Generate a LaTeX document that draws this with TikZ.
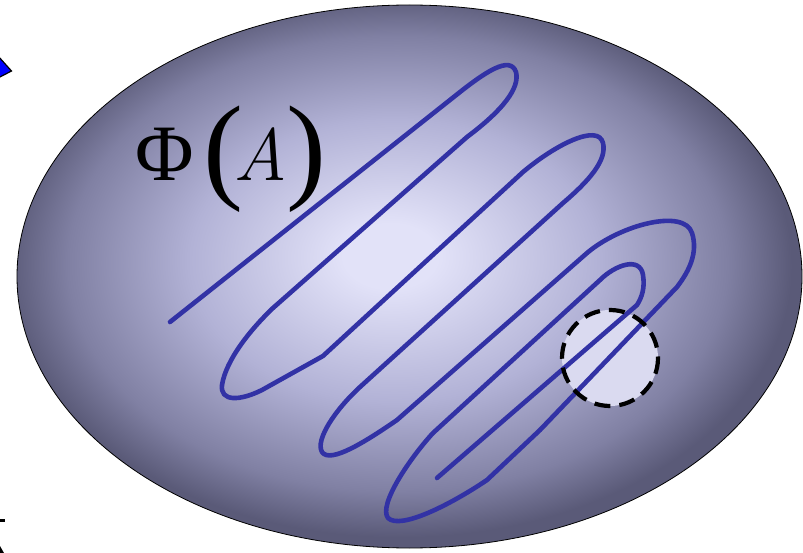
\documentclass[tikz,border=0pt]{standalone}
\usepackage{fontspec}
\setmainfont{Liberation Serif}
\usepackage{graphicx}
\definecolor{cin}{RGB}{226,226,248}
\definecolor{cmid}{RGB}{178,178,214}
\definecolor{cmidb}{RGB}{128,128,163}
\definecolor{cout}{RGB}{90,90,120}
\definecolor{curveblue}{RGB}{50,50,165}
\definecolor{spotfill}{RGB}{218,218,240}
\definecolor{tipblue}{RGB}{0,0,255}
\pgfdeclareradialshading{blobshade}{\pgfpoint{-1.3bp}{2bp}}{color(0bp)=(cin);color(3bp)=(cin);color(13bp)=(cmid);color(21bp)=(cmidb);color(25bp)=(cout);color(50bp)=(cout)}
\begin{document}
\begin{tikzpicture}[x=1pt,y=-1pt,
  blob/.style={shading=blobshade, draw=black, line width=0.8pt},
  wiggle/.style={draw=curveblue, line width=4.6pt, line cap=round, line join=round},
  spot/.style={fill=spotfill},
  spotedge/.style={draw=black, line width=4.2pt, dash pattern=on 16pt off 9pt},
  tipfrag/.style={fill=tipblue, draw=black, line width=1.2pt, line join=miter}]
\useasboundingbox (0,0) rectangle (803,553);
% region A
\path[blob] (409.5,276.5) ellipse [x radius=392.5, y radius=271.5];
% highlighted neighbourhood
\path[spot] (610,358) circle [radius=48];
% the folded curve Phi(A)
\path[wiggle] (170,322) -- (455,96)
  .. controls (485,72) and (510,55) .. (516,72)
  .. controls (520,88) and (503,110) .. (467,137)
  -- (273,308)
  .. controls (250,330) and (226,360) .. (222,385)
  .. controls (220,402) and (240,401) .. (262,390)
  -- (323,356)
  -- (523,172)
  .. controls (555,145) and (598,123) .. (603,143)
  .. controls (607,160) and (590,180) .. (563,203)
  -- (360,387)
  .. controls (335,410) and (315,440) .. (322,452)
  .. controls (330,464) and (365,442) .. (397,420)
  -- (587,253)
  .. controls (620,225) and (684,208) .. (692,233)
  .. controls (698,252) and (690,270) .. (677,287)
  -- (540,430) -- (487,480)
  .. controls (450,505) and (400,530) .. (388,518)
  .. controls (378,505) and (410,458) .. (433,433)
  -- (600,280)
  .. controls (615,265) and (640,256) .. (643,275)
  .. controls (645,288) and (642,297) .. (637,305)
  -- (437,478);
\path[spotedge] (610,358) circle [radius=48];
% label
\node[anchor=base west, inner sep=0pt, font=\fontsize{80}{80}\selectfont] (phi) at (135,181)
  {Φ\kern10pt\raisebox{-0.08em}{\scalebox{1.5}[1.47]{(}}\kern-10pt{\fontfamily{lmr}\fontsize{74}{74}\itshape\selectfont A}\kern-1pt\raisebox{-0.08em}{\scalebox{1.5}[1.47]{)}}};
% fragments cut by the frame
\path[tipfrag] (-2,56) -- (11.5,71) -- (-2,78) -- cycle;
\coordinate (dashA) at (0,520.5);
\coordinate (dashB) at (4.5,520.5);
\draw[black, line width=2.6pt] (dashA) -- (dashB);
\fill[black] (0,546) -- (4,553) -- (0,553) -- cycle;
\end{tikzpicture}
\end{document}
